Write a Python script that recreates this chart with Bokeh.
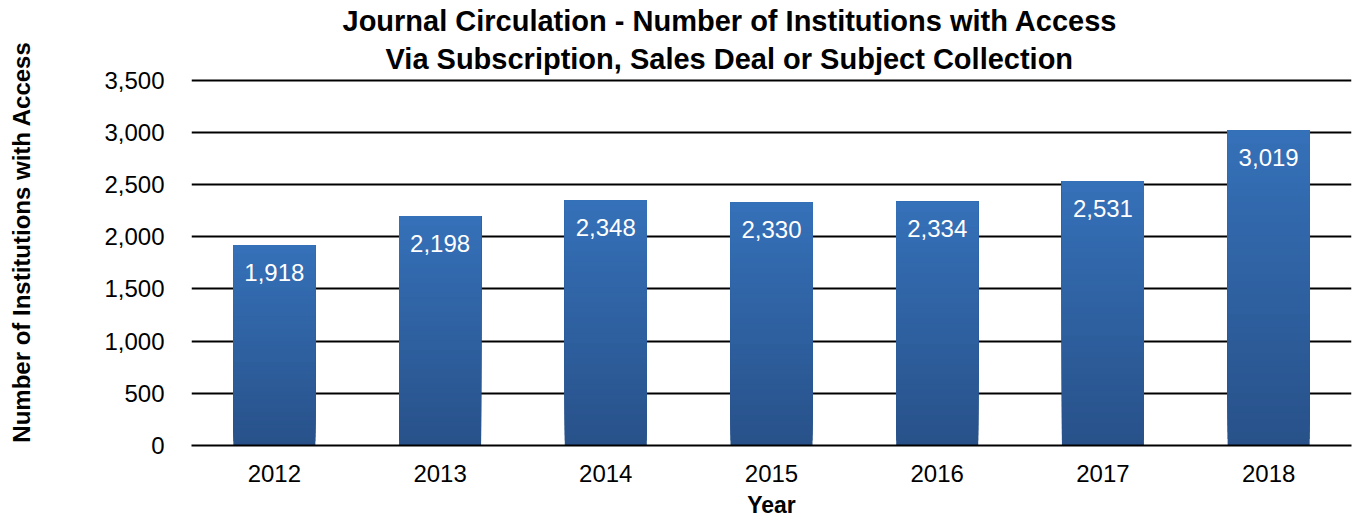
import numpy as np
from bokeh.plotting import figure
from bokeh.models import ColumnDataSource, NumeralTickFormatter, FixedTicker, Title
from bokeh.core.properties import value
from bokeh.embed import file_html
from bokeh.resources import INLINE

years = ["2012", "2013", "2014", "2015", "2016", "2017", "2018"]
institutions = [1918, 2198, 2348, 2330, 2334, 2531, 3019]
y_ticks = [0, 500, 1000, 1500, 2000, 2500, 3000, 3500]
title_lines = ["Journal Circulation - Number of Institutions with Access",
               "Via Subscription, Sales Deal or Subject Collection"]
y_title = "Number of Institutions with Access"
x_title = "Year"

FONT = "Liberation Sans"

p = figure(x_range=years, y_range=(0, 3515), width=1352, height=520,
           output_backend="svg", toolbar_location=None,
           min_border_left=191, min_border_right=1, min_border_top=78, min_border_bottom=74)
p.outline_line_color = None
p.background_fill_color = "white"

# gradient bars: overlapping slices, each from its start up to the bar's top
n = 48
top_c = np.array([0x35, 0x71, 0xB9])
bot_c = np.array([0x28, 0x51, 0x89])
xs, bots, tops, cols = [], [], [], []
for i in range(n):
    f0 = i / n
    c = bot_c + (top_c - bot_c) * (f0 + 0.5 / n)
    for yr, v in zip(years, institutions):
        xs.append(yr)
        bots.append(v * f0)
        tops.append(v)
        cols.append("#%02x%02x%02x" % tuple(int(round(t)) for t in c))
p.vbar(x=xs, bottom=bots, top=tops, width=0.495, fill_color=cols, line_color=None)

src = ColumnDataSource(dict(x=years, y=institutions,
                            t=[f"{v:,}" for v in institutions]))
p.text(x="x", y="y", text="t", source=src, text_color="white",
       text_font=value(FONT), text_font_size="24px", text_align="center",
       text_baseline="middle", y_offset=27)

p.ygrid.grid_line_color = "black"
p.ygrid.grid_line_width = 2
p.xgrid.grid_line_color = None

p.yaxis.ticker = FixedTicker(ticks=y_ticks)
p.yaxis.formatter = NumeralTickFormatter(format="0,0")
p.yaxis.axis_line_color = None
p.yaxis.major_tick_line_color = None
p.yaxis.minor_tick_line_color = None
p.yaxis.major_label_standoff = 21
p.yaxis.major_label_text_font = FONT
p.yaxis.major_label_text_font_size = "24px"
p.yaxis.major_label_text_color = "black"
# leading no-break spaces lift the centred label slightly, as in the reference
p.yaxis.axis_label = "\u00a0" * 6 + y_title
p.yaxis.axis_label_text_font = FONT
p.yaxis.axis_label_text_font_size = "24px"
p.yaxis.axis_label_text_font_style = "bold"
p.yaxis.axis_label_text_color = "black"
p.yaxis.axis_label_standoff = 66

p.xaxis.axis_line_color = "black"
p.xaxis.axis_line_width = 2
p.xaxis.major_tick_line_color = None
p.xaxis.minor_tick_line_color = None
p.xaxis.major_label_standoff = 13
p.xaxis.major_label_text_font = FONT
p.xaxis.major_label_text_font_size = "24px"
p.xaxis.major_label_text_color = "black"
p.xaxis.axis_label = x_title
p.xaxis.axis_label_text_font = FONT
p.xaxis.axis_label_text_font_size = "23px"
p.xaxis.axis_label_text_font_style = "bold"
p.xaxis.axis_label_standoff = 7
p.xaxis.axis_label_text_color = "black"

# two title lines: the one added first sits closest to the plot
p.add_layout(Title(text=title_lines[1], align="left", offset=194, text_font=FONT,
                   text_font_size="29px", text_font_style="bold", text_color="black",
                   standoff=8), "above")
p.add_layout(Title(text=title_lines[0], align="left", offset=151, text_font=FONT,
                   text_font_size="29px", text_font_style="bold", text_color="black",
                   standoff=0), "above")

open("out.html", "w").write(file_html(p, INLINE))
